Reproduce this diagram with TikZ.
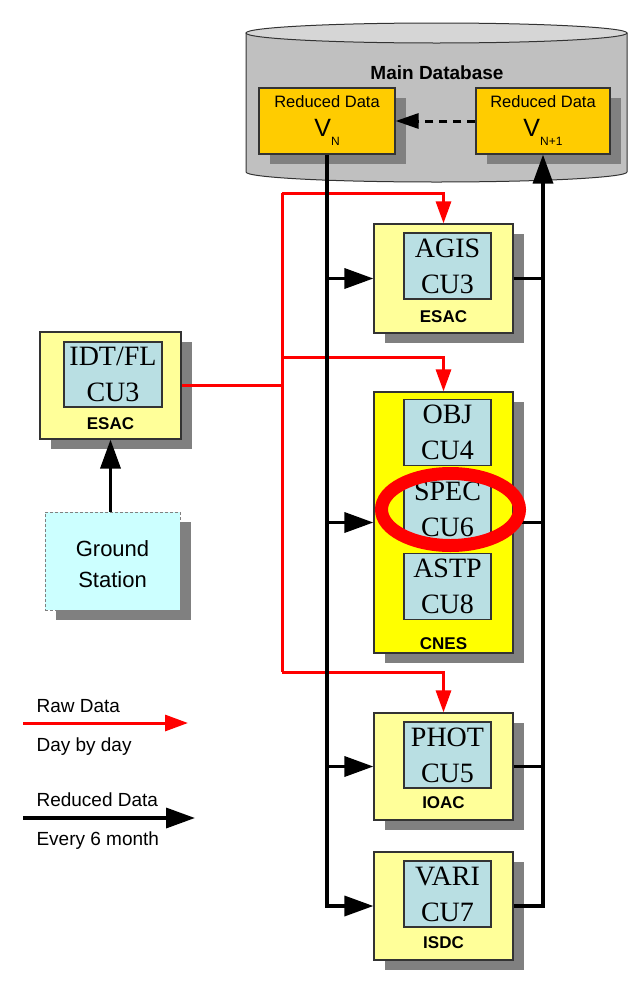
\documentclass[tikz,border=0pt]{standalone}
\usepackage{fontspec}
\setmainfont{Liberation Sans}
\newfontfamily\cufont{Liberation Serif}
\usepackage{xcolor}
\usetikzlibrary{positioning, arrows.meta, calc, shadows}

\definecolor{centreyellow}{HTML}{FFFF99}
\definecolor{cnesyellow}{HTML}{FFFF00}
\definecolor{cublue}{HTML}{B9DFE3}
\definecolor{reducedgold}{HTML}{FFCC00}
\definecolor{groundcyan}{HTML}{CCFFFF}
\definecolor{dbgray}{HTML}{C0C0C0}
\definecolor{dbtop}{HTML}{D6D6D6}
\definecolor{shadowgray}{HTML}{808080}
\definecolor{edgegray}{HTML}{333333}

\begin{document}
\begin{tikzpicture}[x=1pt, y=-1pt,
    shade box/.style={drop shadow={shadow xshift=11pt, shadow yshift=-10pt, fill=shadowgray, opacity=1}},
    centrebox/.style={shade box, draw=edgegray, line width=1.2pt, fill=centreyellow, minimum width=139pt, inner sep=0pt},
    cu/.style={draw=edgegray, line width=1.2pt, fill=cublue, minimum width=87pt, minimum height=66pt, inner sep=0pt, align=center, font=\cufont\fontsize{28}{36}\selectfont},
    site/.style={font=\bfseries\fontsize{17}{17}\selectfont, anchor=base},
    reducedbox/.style={shade box, draw=edgegray, line width=1.2pt, fill=reducedgold, minimum height=66pt},
    rawline/.style={red, line width=3pt},
    rawarrow/.style={rawline, -{Triangle[length=22pt,width=15pt]}},
    reducedline/.style={black, line width=3.5pt},
    reducedarrow/.style={reducedline, -{Triangle[length=29pt,width=20pt]}},
    legendtext/.style={font=\fontsize{19}{19}\selectfont, anchor=base west}]
    \useasboundingbox (0,0) rectangle (630,991);

    % Main database
    \filldraw[fill=dbgray, draw=edgegray, line width=1pt] (246,33) -- (246,172)
        arc[start angle=180, end angle=360, x radius=190.5pt, y radius=10pt] -- (627,33) -- cycle;
    \filldraw[fill=dbtop, draw=edgegray, line width=1pt] (436.5,33) ellipse[x radius=190.5pt, y radius=10pt];
    \node[font=\bfseries\fontsize{19}{19}\selectfont, anchor=base] (dbname) at (437,79) {Main Database};

    % Reduced data versions
    \node[reducedbox, minimum width=136pt] (vn) at (327,121) {};
    \node[reducedbox, minimum width=134pt] (vnext) at (543,121) {};
    \node[anchor=base, font=\fontsize{16.5}{16.5}\selectfont] (vnlab) at (327,107) {Reduced Data};
    \node[anchor=base, font=\fontsize{16.5}{16.5}\selectfont] (vnextlab) at (543,107) {Reduced Data};
    \node[anchor=base] (vnsym) at (327,136) {\fontsize{25}{25}\selectfont V\raisebox{-9pt}{\fontsize{12}{12}\selectfont N}};
    \node[anchor=base] (vnextsym) at (543,136) {\fontsize{25}{25}\selectfont V\raisebox{-9pt}{\fontsize{12}{12}\selectfont N+1}};

    % Processing centres
    \node[centrebox, minimum height=109pt] (agis) at (443.5,278.5) {};
    \node[cu] (agiscu) at (447.5,266) {AGIS\\CU3};
    \node[site] (agissite) at (443.5,322) {ESAC};

    \node[centrebox, fill=cnesyellow, minimum height=261pt] (cnes) at (443.5,522.5) {};
    \node[cu] (obj) at (447.5,432.5) {OBJ\\CU4};
    \node[cu] (spec) at (447.5,509.5) {SPEC\\CU6};
    \node[cu] (astp) at (447.5,586.5) {ASTP\\CU8};
    \node[site] (cnessite) at (443.5,649) {CNES};

    \node[centrebox, minimum height=107pt] (phot) at (443.5,766.5) {};
    \node[cu] (photcu) at (447.5,755) {PHOT\\CU5};
    \node[site] (photsite) at (443.5,808) {IOAC};

    \node[centrebox, minimum height=108pt] (vari) at (443.5,906) {};
    \node[cu] (varicu) at (447.5,894) {VARI\\CU7};
    \node[site] (varisite) at (443.5,948) {ISDC};

    % Initial data treatment and ground station
    \node[centrebox, minimum width=141pt, minimum height=107pt] (idt) at (110.5,385.5) {};
    \node[cu, minimum width=98pt, minimum height=65pt] (idtcu) at (113,374.5) {IDT/FL\\CU3};
    \node[site] (idtsite) at (110.5,429) {ESAC};

    \node[shade box, draw=gray, line width=0.8pt, dash pattern=on 3pt off 2pt, fill=groundcyan,
        minimum width=135pt, minimum height=98pt] (ground) at (112.5,561) {};
    \node[align=center, font=\fontsize{22}{31}\selectfont] (groundlab) at (112.5,564.5) {Ground\\Station};

    % Raw data, day by day
    \coordinate (rawtop) at (282,193);
    \coordinate (rawmid) at (282,357);
    \coordinate (rawbot) at (282,672);
    \draw[rawline] (idt.east) -- (idt.east -| rawtop);
    \draw[rawline] (rawtop) -- (rawbot);
    \draw[rawarrow] (rawtop) -| (agis.north);
    \draw[rawarrow] (rawmid) -| (cnes.north);
    \draw[rawarrow] (rawbot) -| (phot.north);

    % Reduced data, every 6 month
    \draw[reducedarrow] (vn.south) |- (vari.west);
    \draw[reducedarrow] (vn.south |- agis.west) -- (agis.west);
    \draw[reducedarrow] (vn.south |- cnes.west) -- (cnes.west);
    \draw[reducedarrow] (vn.south |- phot.west) -- (phot.west);
    \draw[reducedarrow] (vari.east) -| (vnext.south);
    \draw[reducedline] (agis.east) -- (agis.east -| vnext.south);
    \draw[reducedline] (cnes.east) -- (cnes.east -| vnext.south);
    \draw[reducedline] (phot.east) -- (phot.east -| vnext.south);
    \draw[reducedarrow] (idt.south |- ground.north) -- (idt.south);
    \draw[reducedline, line width=3pt, dash pattern=on 8pt off 6pt,
        -{Triangle[length=23pt,width=15pt]}] (vnext.west) -- (vn.east);

    % Legend
    \coordinate (rawfrom) at (23,723);
    \coordinate (rawto) at (188,723);
    \draw[rawarrow, -{Triangle[length=23pt,width=16pt]}] (rawfrom) -- (rawto);
    \node[legendtext] (rawlab) at (33,712) {Raw Data};
    \node[legendtext] (rawrate) at (33,751) {Day by day};
    \coordinate (reducedfrom) at (23,818);
    \coordinate (reducedto) at (195,818);
    \draw[reducedarrow] (reducedfrom) -- (reducedto);
    \node[legendtext] (reducedlab) at (33,806) {Reduced Data};
    \node[legendtext] (reducedrate) at (33,845) {Every 6 month};

    % Highlight
    \draw[red, line width=13pt] (450.5,509.5) ellipse[x radius=69pt, y radius=36pt];
\end{tikzpicture}
\end{document}
